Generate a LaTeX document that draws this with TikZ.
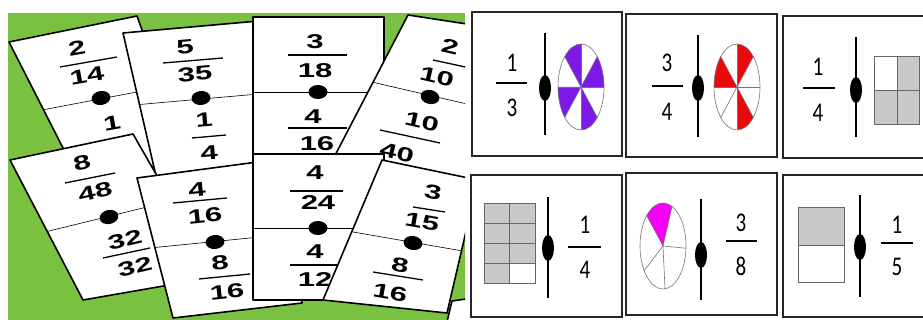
\documentclass[tikz,border=0pt]{standalone}
\usepackage{fontspec}
\newfontfamily\tilefont{Liberation Sans}
\newfontfamily\boxfont{Carlito}
\usetikzlibrary{calc}

\definecolor{feltgreen}{RGB}{122,193,66}
\definecolor{pieviolet}{RGB}{125,25,230}
\definecolor{piered}{RGB}{232,10,10}
\definecolor{piepink}{RGB}{245,0,245}
\definecolor{cellgray}{RGB}{200,200,200}

\tikzset{
  tile/.style={draw=black, line width=1.6pt, line join=round},
  num/.style={inner sep=0pt, xscale=1.55, font=\tilefont\bfseries\fontsize{20}{20}\selectfont},
  fbar/.style={line width=1.3pt},
  rule/.style={line width=0.6pt},
  panel/.style={draw=black!85, line width=2.2pt, fill=white},
  digit/.style={inner sep=0pt, xscale=0.78, font=\boxfont\fontsize{27}{27}\selectfont},
  sbar/.style={line width=1.8pt},
  stick/.style={line width=1.8pt},
  spoke/.style={draw=black!55, line width=0.6pt},
  cell/.style={draw=black!60, line width=0.8pt},
}

% one domino card: outline, then the middle rule
\newcommand\dominotile[2]{%
  \fill[white] #1;
  \begin{scope}\clip #1; \draw[rule] #2; \end{scope}
  \draw[tile] #1;}
\newcommand\pip[2]{\fill[rotate around={#2:#1}] #1 ellipse (9.5 and 7);}
% pie pieces, angles counted with y downwards
\newcommand\pieslice[4]{\fill[#4] (#1) -- ++(#2:23 and 43) arc[start angle=#2, end angle=#3, x radius=23, y radius=43] -- cycle;}
\newcommand\piewheel[2]{%
  \foreach \t in {#2} {\draw[spoke] (#1) -- ++(\t:23 and 43);}
  \draw[spoke] (#1) ellipse (23 and 43);}

\begin{document}
\begin{tikzpicture}[x=1pt,y=-1pt]
\useasboundingbox (0,0) rectangle (923,320);
\fill[white] (0,0) rectangle (923,320);

% ---- photo of the cards on the green table
\begin{scope}
\clip (8,13) rectangle (465,320);
\fill[feltgreen] (8,13) rectangle (465,320);
% 2/14 -- 1
\dominotile{(9,42) -- (137,16) -- (185,150) -- (89,199) -- cycle}{(0,118) -- (200,80)}
\pip{(101,98)}{10}
\node[rotate=10,num] (a1) at (77,48) {2};
\draw[fbar] (60,67) -- (117,57);
\node[rotate=10,num] (a2) at (87,76) {14};
\node[rotate=10,num] (a3) at (112,123) {1};
% 5/35 -- 1/4
\dominotile{(123,33) -- (270,20) -- (290,200) -- (165,215) -- cycle}{(100,108) -- (270,93)}
\pip{(201,98)}{5}
\node[rotate=5,num] (b1) at (185,47) {5};
\draw[fbar] (163,63) -- (223,58);
\node[rotate=5,num] (b2) at (195,74) {35};
\node[rotate=5,num] (b3) at (204,120) {1};
\draw[fbar] (192,138) -- (226,135);
\node[rotate=5,num] (b4) at (209,153) {4};
% 3/18 -- 4/16
\dominotile{(253,17) -- (384,17) -- (384,170) -- (253,170) -- cycle}{(253,92) -- (384,92)}
\pip{(318,92)}{0}
\node[num] (c1) at (315,42) {3};
\draw[fbar] (288,55) -- (347,55);
\node[num] (c2) at (315,71) {18};
\node[num] (c3) at (313,117) {4};
\draw[fbar] (288,128) -- (347,128);
\node[num] (c4) at (317,144) {16};
% 2/10 -- 10/40
\dominotile{(408,15) -- (480,26) -- (480,200) -- (330,165) -- cycle}{(350,77) -- (480,107)}
\pip{(430,97)}{-13}
\node[rotate=-13,num] (d1) at (450,47) {2};
\draw[fbar] (433,60) -- (470,68);
\node[rotate=-13,num] (d2) at (437,77) {10};
\node[rotate=-13,num] (d3) at (422,122) {10};
\draw[fbar] (380,130) -- (440,143);
\node[rotate=-13,num] (d4) at (397,153) {40};
% 8/48 -- 32/32
\dominotile{(10,160) -- (133,134) -- (215,277) -- (83,300) -- cycle}{(0,243) -- (200,194)}
\pip{(109,217)}{13}
\node[rotate=13,num] (e1) at (82,163) {8};
\draw[fbar] (65,183) -- (115,173);
\node[rotate=13,num] (e2) at (95,192) {48};
\node[rotate=13,num] (e3) at (125,240) {32};
\draw[fbar] (103,258) -- (150,248);
\node[rotate=13,num] (e4) at (135,267) {32};
% 4/16 -- 8/16
\dominotile{(137,178) -- (280,159) -- (302,303) -- (173,318) -- cycle}{(130,250) -- (300,233)}
\pip{(215,242)}{6}
\node[rotate=6,num] (f1) at (197,190) {4};
\draw[fbar] (173,203) -- (227,198);
\node[rotate=6,num] (f2) at (205,216) {16};
\node[rotate=6,num] (f3) at (220,263) {8};
\draw[fbar] (199,279) -- (250,274);
\node[rotate=6,num] (f4) at (227,292) {16};
% 4/24 -- 4/12
\dominotile{(253,154) -- (384,154) -- (384,300) -- (253,300) -- cycle}{(253,228) -- (384,228)}
\pip{(318,228)}{0}
\node[num] (g1) at (315,173) {4};
\draw[fbar] (290,191) -- (343,191);
\node[num] (g2) at (318,203) {24};
\node[num] (g3) at (315,252) {4};
\draw[fbar] (290,265) -- (343,265);
\node[num] (g4) at (315,280) {12};
% corner of one more card
\filldraw[tile,fill=white] (452,301) -- (480,297) -- (480,330) -- (445,330) -- cycle;
% 3/15 -- 8/16
\dominotile{(382,160) -- (478,180) -- (447,313) -- (323,300) -- cycle}{(330,228) -- (480,254)}
\pip{(413,243)}{-10}
\node[rotate=-10,num] (h1) at (433,192) {3};
\draw[fbar] (413,207) -- (445,212);
\node[rotate=-10,num] (h2) at (422,222) {15};
\node[rotate=-10,num] (h3) at (400,265) {8};
\draw[fbar] (373,272) -- (423,280);
\node[rotate=-10,num] (h4) at (390,293) {16};
\end{scope}

% ---- printed cards
\draw[panel] (472,12) rectangle (622,156);
\draw[panel] (626,14) rectangle (777,157);
\draw[panel] (783,16) rectangle (930,158);
\draw[panel] (471,175) rectangle (622,317);
\draw[panel] (626,173) rectangle (777,315);
\draw[panel] (783,175) rectangle (930,317);

% 1/3 | purple wheel
\node[digit] (p1n) at (512,63) {1};
\draw[sbar] (496,83) -- (527,83);
\node[digit] (p1d) at (512,108) {3};
\draw[stick] (545,33) -- (545,135);
\fill (545,88) ellipse (6 and 13);
\coordinate (w1) at (581,87);
\foreach \a in {45,135,225,315} {\pieslice{w1}{\a}{\a+45}{pieviolet}}
\piewheel{w1}{0,45,...,315}

% 3/4 | red wheel
\node[digit] (p2n) at (667,63) {3};
\draw[sbar] (652,86) -- (683,86);
\node[digit] (p2d) at (667,112) {4};
\draw[stick] (698,35) -- (698,137);
\fill (698,88) ellipse (6 and 13);
\coordinate (w2) at (737,87);
\foreach \a in {270,180,45} {\pieslice{w2}{\a}{\a+45}{piered}}
\piewheel{w2}{0,45,...,315}

% 1/4 | square in four
\node[digit] (p3n) at (818,67) {1};
\draw[sbar] (803,88) -- (835,88);
\node[digit] (p3d) at (818,113) {4};
\draw[stick] (856,37) -- (856,137);
\fill (856,90) ellipse (6 and 13);
\fill[cellgray] (897,56) rectangle (919,124);
\fill[cellgray] (874,90) rectangle (897,124);
\draw[cell] (874,56) rectangle (919,124);
\draw[cell] (897,56) -- (897,124);
\draw[cell] (874,90) -- (919,90);

% table in eight | 1/4
\fill[cellgray] (484,203) rectangle (535,263);
\fill[cellgray] (484,263) rectangle (509.5,283);
\foreach \y in {223,243,263} {\draw[cell] (484,\y) -- (535,\y);}
\draw[cell] (509.5,203) -- (509.5,283);
\draw[cell] (484,203) rectangle (535,283);
\draw[stick] (548,197) -- (548,298);
\fill (548,248) ellipse (6 and 13);
\node[digit] (p4n) at (585,225) {1};
\draw[sbar] (568,247) -- (601,247);
\node[digit] (p4d) at (585,270) {4};

% wheel in five | 3/8
\coordinate (w5) at (663,246);
\pieslice{w5}{225}{293}{piepink}
\piewheel{w5}{225,293,3,85,145}
\draw[stick] (701,199) -- (701,300);
\fill (701,255) ellipse (6 and 13);
\node[digit] (p5n) at (741,223) {3};
\draw[sbar] (726,241) -- (757,241);
\node[digit] (p5d) at (741,266) {8};

% half square | 1/5
\fill[cellgray] (798,207) rectangle (844,245);
\draw[cell] (798,207) rectangle (844,282);
\draw[cell] (798,245) -- (844,245);
\draw[stick] (860,195) -- (860,297);
\fill (860,247) ellipse (6 and 13);
\node[digit] (p6n) at (897,225) {1};
\draw[sbar] (881,243) -- (913,243);
\node[digit] (p6d) at (897,267) {5};
\end{tikzpicture}
\end{document}
